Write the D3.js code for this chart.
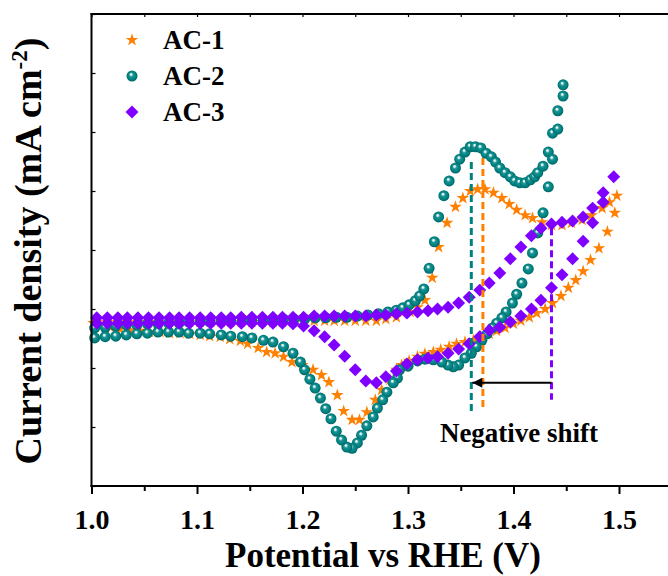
<!DOCTYPE html>
<html><head><meta charset="utf-8">
<script src="https://cdn.jsdelivr.net/npm/d3@7"></script>
<style>
body{margin:0;background:#fff}
svg{display:block}
text{font-family:"Liberation Serif","Times New Roman",serif;font-weight:bold;fill:#000}
</style>
</head><body>
<svg id="c" width="668" height="576"></svg>
<script>
// ---------- data (potential V vs RHE, current density mA cm^-2) ----------
const seriesNames = ["AC-1", "AC-2", "AC-3"];
const seriesColors = ["#FF8000", "#008080", "#8000FF"];
const potentialTicks = [1.0, 1.1, 1.2, 1.3, 1.4, 1.5];
const potentialTickLabels = ["1.0", "1.1", "1.2", "1.3", "1.4", "1.5"];
const potentialMinorTicks = [1.05, 1.15, 1.25, 1.35, 1.45];
const currentTicks = [-4, -3, -2, -1, 0, 1, 2, 3, 4];

const ac1Forward = [
[1.005,-1.22],[1.015,-1.22],[1.025,-1.22],[1.034,-1.22],[1.044,-1.22],[1.054,-1.22],[1.064,-1.22],[1.074,-1.22],
[1.083,-1.22],[1.093,-1.22],[1.103,-1.22],[1.113,-1.22],[1.123,-1.22],[1.132,-1.22],[1.142,-1.22],[1.152,-1.22],
[1.162,-1.22],[1.172,-1.22],[1.181,-1.22],[1.191,-1.22],[1.201,-1.22],[1.211,-1.20],[1.221,-1.20],[1.230,-1.20],
[1.240,-1.20],[1.250,-1.20],[1.260,-1.20],[1.270,-1.20],[1.279,-1.17],[1.289,-1.14],[1.302,-1.05],[1.309,-0.97],
[1.316,-0.85],[1.323,-0.47],[1.329,0.05],[1.337,0.46],[1.345,0.73],[1.352,0.88],[1.359,1.00],[1.366,1.03],
[1.373,1.03],[1.381,0.97],[1.389,0.88],[1.396,0.78],[1.403,0.68],[1.411,0.59],[1.418,0.54],[1.427,0.47],
[1.436,0.42],[1.446,0.42],[1.455,0.46],[1.465,0.51],[1.474,0.59],[1.484,0.71],[1.491,0.81],[1.498,0.92]
];
const ac1Reverse = [
[1.496,0.63],[1.489,0.31],[1.481,0.03],[1.473,-0.17],[1.466,-0.36],[1.459,-0.51],[1.452,-0.64],[1.445,-0.78],
[1.437,-0.90],[1.430,-1.00],[1.422,-1.07],[1.415,-1.14],[1.407,-1.20],[1.400,-1.25],[1.392,-1.32],[1.384,-1.37],
[1.377,-1.42],[1.369,-1.47],[1.362,-1.53],[1.354,-1.56],[1.346,-1.59],[1.339,-1.64],[1.331,-1.69],[1.324,-1.73],
[1.316,-1.76],[1.309,-1.81],[1.301,-1.88],[1.294,-1.95],[1.289,-2.03],[1.283,-2.20],[1.275,-2.37],[1.269,-2.54],
[1.261,-2.75],[1.254,-2.88],[1.247,-2.88],[1.239,-2.73],[1.233,-2.46],[1.225,-2.24],[1.218,-2.12],[1.210,-2.03],
[1.200,-1.95],[1.190,-1.90],[1.182,-1.81],[1.174,-1.75],[1.166,-1.73],[1.158,-1.66],[1.148,-1.59],[1.141,-1.54],
[1.131,-1.51],[1.122,-1.47],[1.112,-1.46],[1.103,-1.44],[1.093,-1.42],[1.084,-1.41],[1.074,-1.41],[1.065,-1.39],
[1.055,-1.39],[1.046,-1.37],[1.036,-1.36],[1.027,-1.34],[1.018,-1.31],[1.008,-1.27],[1.002,-1.24]
];
const ac2Forward = [
[1.003,-1.32],[1.013,-1.31],[1.023,-1.29],[1.033,-1.27],[1.043,-1.27],[1.053,-1.25],[1.063,-1.25],[1.073,-1.24],
[1.083,-1.24],[1.092,-1.22],[1.103,-1.22],[1.112,-1.22],[1.123,-1.20],[1.132,-1.20],[1.143,-1.20],[1.152,-1.19],
[1.163,-1.19],[1.172,-1.19],[1.182,-1.17],[1.192,-1.17],[1.202,-1.17],[1.212,-1.15],[1.222,-1.15],[1.232,-1.14],
[1.242,-1.14],[1.252,-1.12],[1.262,-1.10],[1.272,-1.08],[1.281,-1.05],[1.289,-1.02],[1.295,-0.98],[1.301,-0.93],
[1.307,-0.86],[1.311,-0.78],[1.315,-0.66],[1.320,-0.31],[1.325,0.14],[1.329,0.56],[1.334,0.92],[1.339,1.17],
[1.345,1.39],[1.349,1.54],[1.354,1.66],[1.359,1.75],[1.364,1.75],[1.369,1.73],[1.374,1.64],[1.379,1.58],
[1.383,1.49],[1.387,1.39],[1.392,1.31],[1.397,1.24],[1.401,1.17],[1.406,1.14],[1.411,1.14],[1.416,1.19],
[1.420,1.24],[1.423,1.31],[1.428,1.42],[1.433,1.66],[1.437,1.98],[1.442,2.36],[1.447,2.80]
];
const ac2Reverse = [
[1.447,2.61],[1.442,2.05],[1.437,1.54],[1.433,1.07],[1.428,0.63],[1.423,0.29],[1.418,-0.05],[1.414,-0.32],
[1.408,-0.56],[1.403,-0.75],[1.399,-0.90],[1.393,-1.05],[1.389,-1.15],[1.384,-1.24],[1.380,-1.32],[1.375,-1.42],
[1.370,-1.53],[1.365,-1.64],[1.360,-1.75],[1.354,-1.83],[1.348,-1.95],[1.343,-1.98],[1.338,-1.95],[1.332,-1.90],
[1.324,-1.86],[1.316,-1.85],[1.309,-1.88],[1.300,-1.97],[1.292,-2.03],[1.290,-2.17],[1.286,-2.25],[1.280,-2.41],
[1.276,-2.54],[1.271,-2.68],[1.267,-2.83],[1.261,-2.98],[1.256,-3.14],[1.252,-3.27],[1.247,-3.36],[1.242,-3.34],
[1.237,-3.22],[1.232,-3.07],[1.227,-2.86],[1.222,-2.69],[1.217,-2.51],[1.212,-2.34],[1.207,-2.19],[1.202,-2.03],
[1.198,-1.90],[1.191,-1.75],[1.182,-1.64],[1.172,-1.56],[1.163,-1.53],[1.152,-1.49],[1.143,-1.47],[1.132,-1.46],
[1.123,-1.44],[1.112,-1.42],[1.103,-1.41],[1.092,-1.41],[1.083,-1.39],[1.073,-1.39],[1.063,-1.39],[1.053,-1.41],
[1.043,-1.42],[1.033,-1.44],[1.023,-1.46],[1.013,-1.47],[1.003,-1.49]
];
const ac3Forward = [
[1.005,-1.15],[1.015,-1.15],[1.025,-1.15],[1.034,-1.15],[1.044,-1.15],[1.054,-1.15],[1.064,-1.15],[1.074,-1.15],
[1.083,-1.15],[1.093,-1.15],[1.103,-1.15],[1.113,-1.15],[1.123,-1.15],[1.132,-1.15],[1.142,-1.14],[1.152,-1.14],
[1.162,-1.14],[1.172,-1.14],[1.181,-1.14],[1.191,-1.14],[1.201,-1.14],[1.211,-1.12],[1.221,-1.12],[1.230,-1.12],
[1.240,-1.12],[1.250,-1.12],[1.260,-1.12],[1.270,-1.10],[1.279,-1.10],[1.289,-1.08],[1.299,-1.07],[1.309,-1.05],
[1.319,-1.03],[1.328,-1.00],[1.338,-0.97],[1.348,-0.90],[1.358,-0.80],[1.368,-0.68],[1.377,-0.56],[1.387,-0.39],
[1.397,-0.15],[1.407,0.05],[1.417,0.24],[1.426,0.37],[1.436,0.44],[1.446,0.47],[1.456,0.49],[1.466,0.56],
[1.475,0.71],[1.485,0.97],[1.495,1.24]
];
const ac3Reverse = [
[1.485,0.81],[1.475,0.46],[1.466,0.15],[1.456,-0.15],[1.446,-0.42],[1.436,-0.64],[1.426,-0.85],[1.417,-1.00],
[1.407,-1.12],[1.397,-1.22],[1.387,-1.31],[1.377,-1.36],[1.368,-1.47],[1.358,-1.59],[1.348,-1.68],[1.338,-1.75],
[1.328,-1.81],[1.319,-1.83],[1.309,-1.86],[1.299,-1.93],[1.289,-2.05],[1.279,-2.15],[1.270,-2.25],[1.260,-2.22],
[1.250,-2.03],[1.240,-1.80],[1.230,-1.61],[1.221,-1.47],[1.211,-1.37],[1.201,-1.29],[1.191,-1.25],[1.181,-1.24],
[1.172,-1.24],[1.162,-1.24],[1.152,-1.24],[1.142,-1.24],[1.132,-1.24],[1.123,-1.24],[1.113,-1.24],[1.103,-1.24],
[1.093,-1.24],[1.083,-1.24],[1.074,-1.24],[1.064,-1.24],[1.054,-1.24],[1.044,-1.24],[1.034,-1.24],[1.025,-1.24],
[1.015,-1.24],[1.005,-1.24]
];
// peak markers: potential, top and bottom current of the dashed guide
const peakPotentials = [1.371, 1.360, 1.436];
const peakGuideTop = [1.56, 1.49, 0.37];
const peakGuideBottom = [-2.68, -2.76, -2.54];
const shiftArrow = {from: 1.436, to: 1.360, current: -2.25, label: "Negative shift"};

// ---------- chart ----------
const W = 668, H = 576;
const svg = d3.select("#c");
const x = d3.scaleLinear().domain([1.0, 1.5]).range([91.5, 619]);
const y = d3.scaleLinear().domain([-4, 4]).range([486, 14]);
const plotRight = W + 2;

// gradient for spheres
const defs = svg.append("defs");
const g1 = defs.append("radialGradient").attr("id", "sph")
  .attr("cx", "0.5").attr("cy", "0.5").attr("r", "0.55").attr("fx", "0.4").attr("fy", "0.33");
[["0%", "#ffffff"], ["14%", "#d8eeee"], ["34%", "#1a9494"], ["70%", "#008080"], ["100%", "#005c5c"]]
  .forEach(s => g1.append("stop").attr("offset", s[0]).attr("stop-color", s[1]));

// markers
const starPath = d3.symbol().type(d3.symbolStar).size(50)();
const squarePath = d3.symbol().type(d3.symbolSquare).size(84)();
function drawMarker(sel, kind) {
  if (kind === 0) {
    sel.append("path").attr("d", starPath).attr("fill", seriesColors[0]);
  } else if (kind === 1) {
    sel.append("circle").attr("r", 5.5).attr("fill", "url(#sph)");
  } else {
    sel.append("path").attr("d", squarePath).attr("transform", "rotate(45)").attr("fill", seriesColors[2]);
  }
}
const allSeries = [ac1Forward.concat(ac1Reverse), ac2Forward.concat(ac2Reverse), ac3Forward.concat(ac3Reverse)];
allSeries.forEach((data, k) => {
  const gs = svg.append("g").attr("class", "series-" + k);
  gs.selectAll("g.pt").data(data).join("g").attr("class", "pt")
    .attr("transform", d => `translate(${x(d[0])},${y(d[1])})`)
    .each(function () { drawMarker(d3.select(this), k); });
});

// dashed peak guides
peakPotentials.forEach((p, i) => {
  svg.append("line")
    .attr("x1", x(p)).attr("x2", x(p))
    .attr("y1", y(peakGuideTop[i])).attr("y2", y(peakGuideBottom[i]))
    .attr("stroke", seriesColors[i]).attr("stroke-width", 3)
    .attr("stroke-dasharray", "7,4");
});

// arrow
defs.append("marker").attr("id", "ah").attr("viewBox", "0 0 10 10")
  .attr("refX", 10).attr("refY", 5).attr("markerWidth", 6).attr("markerHeight", 5)
  .attr("markerUnits", "strokeWidth").attr("orient", "auto")
  .append("path").attr("d", "M0,0L10,5L0,10z").attr("fill", "#000");
svg.append("line")
  .attr("x1", x(shiftArrow.from)).attr("x2", x(shiftArrow.to) + 1)
  .attr("y1", y(shiftArrow.current)).attr("y2", y(shiftArrow.current))
  .attr("stroke", "#000").attr("stroke-width", 2).attr("marker-end", "url(#ah)");
svg.append("text")
  .attr("x", 519).attr("y", 442).attr("text-anchor", "middle")
  .attr("font-size", 27).text(shiftArrow.label);

// axes
const axisStroke = 2;
// bottom
const gb = svg.append("g").attr("transform", "translate(0,486)");
gb.call(d3.axisBottom(x).tickValues(potentialTicks)
  .tickFormat((d, i) => potentialTickLabels[i]).tickSize(8).tickPadding(15));
gb.select(".domain").remove();
gb.selectAll(".tick line").attr("stroke-width", axisStroke);
gb.selectAll(".tick text").attr("font-size", 28).attr("font-family", "Liberation Serif").attr("font-weight", "bold").attr("fill", "#000");
const gbm = svg.append("g").attr("transform", "translate(0,486)");
gbm.call(d3.axisBottom(x).tickValues(potentialMinorTicks).tickSize(5).tickFormat(""));
gbm.select(".domain").remove();
gbm.selectAll(".tick line").attr("stroke-width", axisStroke);
svg.append("line").attr("x1", 91.5 - 1).attr("x2", plotRight).attr("y1", 486).attr("y2", 486)
  .attr("stroke", "#000").attr("stroke-width", axisStroke);
// top
const gt = svg.append("g").attr("transform", "translate(0,14)");
gt.call(d3.axisTop(x).tickValues(potentialTicks.concat(potentialMinorTicks)).tickSize(-3).tickFormat(""));
gt.select(".domain").remove();
gt.selectAll(".tick line").attr("stroke-width", 1.2);
svg.append("line").attr("x1", 91.5 - 1).attr("x2", plotRight).attr("y1", 14).attr("y2", 14)
  .attr("stroke", "#000").attr("stroke-width", axisStroke);
// left
const gl = svg.append("g").attr("transform", "translate(91.5,0)");
gl.call(d3.axisLeft(y).tickValues(currentTicks).tickSize(-4).tickFormat(""));
gl.select(".domain").remove();
gl.selectAll(".tick line").attr("stroke-width", 1.2);
svg.append("line").attr("x1", 91.5).attr("x2", 91.5).attr("y1", 13).attr("y2", 487)
  .attr("stroke", "#000").attr("stroke-width", axisStroke);

// axis titles
svg.append("text").attr("x", 383).attr("y", 567).attr("text-anchor", "middle")
  .attr("font-size", 35).text("Potential vs RHE (V)");
const yt = svg.append("text").attr("transform", "translate(41,251) rotate(-90)")
  .attr("text-anchor", "middle").attr("font-size", 38);
yt.append("tspan").text("Current density (mA cm");
yt.append("tspan").attr("dy", -14).attr("font-size", 23).text("-2");
yt.append("tspan").attr("dy", 14).text(")");

// legend
const legendY = [40, 76, 112];
seriesNames.forEach((name, i) => {
  const lg = svg.append("g").attr("transform", `translate(132,${legendY[i]})`);
  drawMarker(lg, i);
  svg.append("text").attr("x", 163).attr("y", legendY[i] + 9).attr("font-size", 27).text(name);
});
</script>
</body></html>
